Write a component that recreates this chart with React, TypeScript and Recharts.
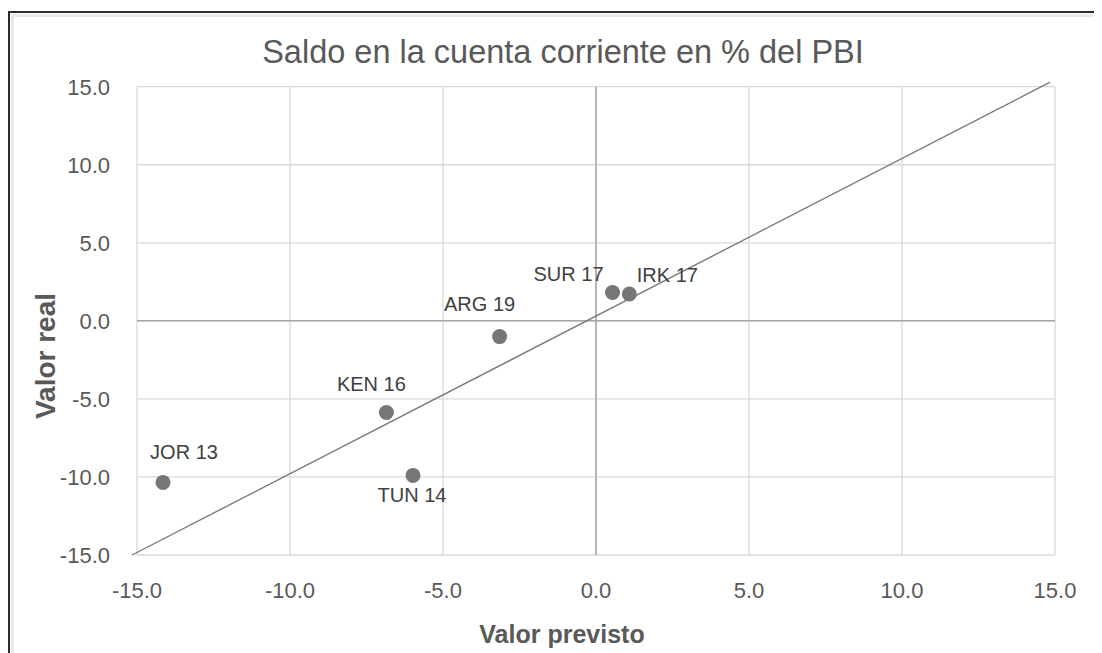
import React from 'react';
import {
  ScatterChart,
  Scatter,
  XAxis,
  YAxis,
  CartesianGrid,
  ReferenceLine,
  Customized,
} from 'recharts';

// ---- data ----
const countries = ['JOR 13', 'KEN 16', 'TUN 14', 'ARG 19', 'SUR 17', 'IRK 17'];
const predicted = [-14.15, -6.85, -5.98, -3.15, 0.54, 1.09];
const actual = [-10.35, -5.87, -9.9, -1.01, 1.82, 1.72];
const axisTicks = [-15, -10, -5, 0, 5, 10, 15];
const diagonalX = [-15.16, 14.84];
const diagonalY = [-15.0, 15.29];
const TITLE = 'Saldo en la cuenta corriente en % del PBI';
const X_TITLE = 'Valor previsto';
const Y_TITLE = 'Valor real';

// label placement (style, not data)
const labelOffsets: Record<string, [number, number]> = {
  'JOR 13': [21, -30],
  'KEN 16': [-15, -28],
  'TUN 14': [-1, 20],
  'ARG 19': [-20, -33],
  'SUR 17': [-44, -18],
  'IRK 17': [38, -19],
};

const points = countries.map((name, i) => ({ name, x: predicted[i], y: actual[i] }));

const FONT = '"Liberation Sans", Arial, sans-serif';
const W = 1094;
const H = 645;

const PointShape = (props: any) => {
  const { cx, cy, payload } = props;
  const off = labelOffsets[payload?.name] ?? [0, -20];
  return (
    <g>
      <circle cx={cx} cy={cy} r={7.5} fill="#767676" />
      <text
        x={cx + off[0]}
        y={cy + off[1] + 7}
        textAnchor="middle"
        fontSize={20}
        fill="#404040"
        fontFamily={FONT}
      >
        {payload?.name}
      </text>
    </g>
  );
};

const Titles = () => (
  <g fontFamily={FONT}>
    <text x={555} y={54.7} textAnchor="middle" fontSize={32.5} fill="#595959">
      {TITLE}
    </text>
    <text x={554} y={635} textAnchor="middle" fontSize={25} fontWeight="bold" fill="#595959">
      {X_TITLE}
    </text>
    <text
      x={47}
      y={348}
      textAnchor="middle"
      fontSize={28}
      fontWeight="bold"
      fill="#595959"
      transform="rotate(-90, 47, 348)"
    >
      {Y_TITLE}
    </text>
  </g>
);

const fmt = (v: number) => v.toFixed(1);

export default function App() {
  return (
    <div style={{ position: 'relative', width: W, height: H, fontFamily: FONT }}>
      <div
        style={{
          position: 'absolute',
          left: 0,
          top: 3,
          width: W,
          height: H - 3,
          borderLeft: '2px solid #2b2b2b',
          borderTop: '2px solid #2b2b2b',
          boxSizing: 'border-box',
        }}
      >
        <div
          style={{
            position: 'absolute',
            left: 1,
            top: 1,
            right: 0,
            bottom: 0,
            borderLeft: '3px solid #e8e8e8',
            borderTop: '3px solid #e8e8e8',
          }}
        />
      </div>
      <div style={{ position: 'absolute', left: 0, top: 0 }}>
        <ScatterChart
          width={W}
          height={H}
          margin={{ top: 78.7, right: 47, bottom: 0, left: 0 }}
        >
          <CartesianGrid stroke="#d9d9d9" strokeWidth={1.3} />
          <XAxis
            type="number"
            dataKey="x"
            domain={[-15, 15]}
            ticks={axisTicks}
            tickFormatter={fmt}
            axisLine={false}
            tickLine={false}
            tickSize={0}
            tickMargin={27}
            height={98}
            interval={0}
            tick={{ fill: '#595959', fontSize: 22, fontFamily: FONT }}
          />
          <YAxis
            type="number"
            dataKey="y"
            domain={[-15, 15]}
            ticks={axisTicks}
            tickFormatter={fmt}
            axisLine={false}
            tickLine={false}
            tickSize={0}
            tickMargin={27}
            width={129}
            interval={0}
            tick={{ fill: '#595959', fontSize: 22, fontFamily: FONT }}
          />
          <ReferenceLine x={0} stroke="#a6a6a6" strokeWidth={1.5} />
          <ReferenceLine y={0} stroke="#a6a6a6" strokeWidth={1.5} />
          <ReferenceLine
            segment={[
              { x: diagonalX[0], y: diagonalY[0] },
              { x: diagonalX[1], y: diagonalY[1] },
            ]}
            stroke="#7a7a7a"
            strokeWidth={1.4}
            ifOverflow="visible"
          />
          <Scatter data={points} shape={PointShape} isAnimationActive={false} />
          <Customized component={Titles} />
        </ScatterChart>
      </div>
    </div>
  );
}
